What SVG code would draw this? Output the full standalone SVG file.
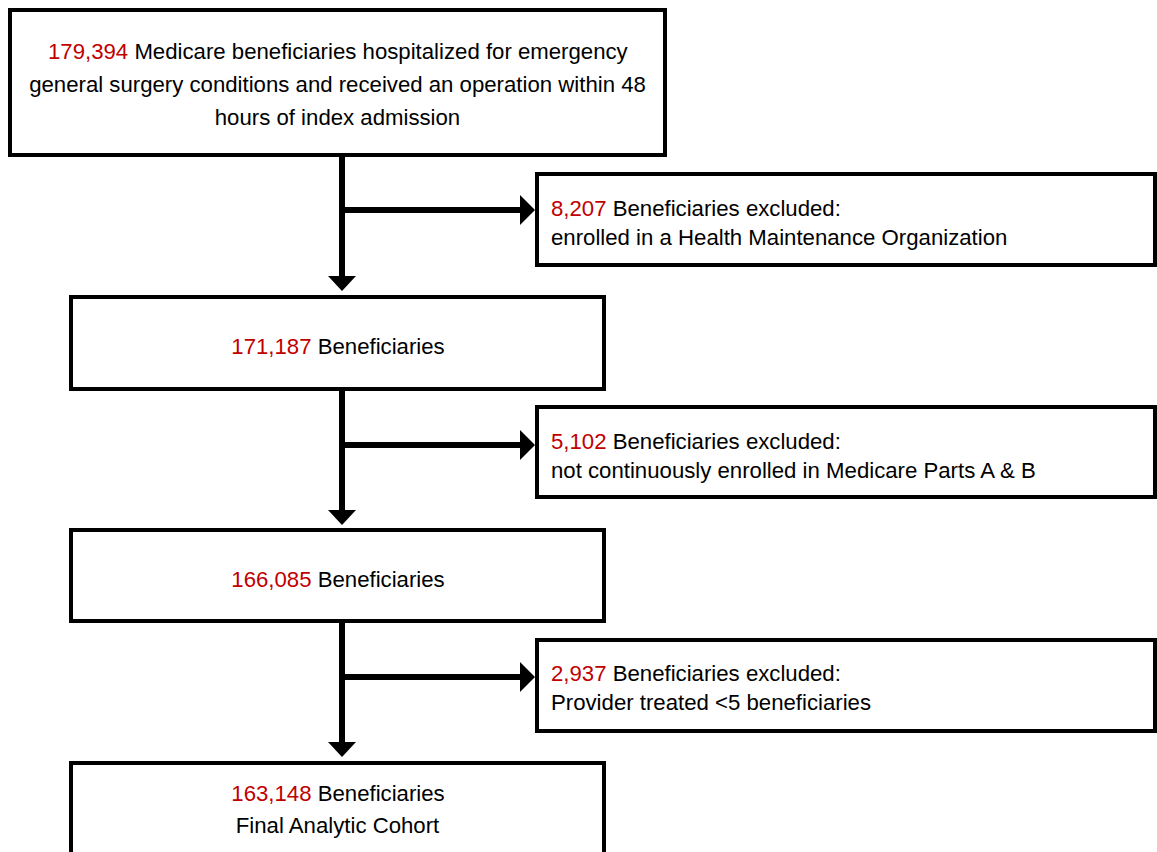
<svg xmlns="http://www.w3.org/2000/svg" width="1157" height="852" viewBox="0 0 1157 852">
<style>
.box{fill:#fff;stroke:#000;stroke-width:4}
.t{font-family:"Liberation Sans",Arial,sans-serif;font-size:22.2px;fill:#000}
.c{text-anchor:middle}
.n{fill:#c00000}
.ln{stroke:#000;stroke-width:6;fill:none}
.hd{fill:#000}
</style>
<rect width="1157" height="852" fill="#fff"/>
<g id="connectors">
<path class="ln" d="M342,155 V278"/>
<path class="hd" d="M328,276 L356,276 L342,291 z"/>
<path class="ln" d="M342,210 H522"/>
<path class="hd" d="M520,195 L535,210 L520,225 z"/>
<path class="ln" d="M342,389 V512"/>
<path class="hd" d="M328,510 L356,510 L342,525 z"/>
<path class="ln" d="M342,445 H522"/>
<path class="hd" d="M520,430 L535,445 L520,460 z"/>
<path class="ln" d="M342,621 V744"/>
<path class="hd" d="M328,742 L356,742 L342,757 z"/>
<path class="ln" d="M342,677 H522"/>
<path class="hd" d="M520,662 L535,677 L520,692 z"/>
</g>
<g id="n1">
<rect class="box" x="10" y="10" width="655" height="145"/>
<text class="t n" x="48" y="59">179,394</text>
<text class="t" x="134.4" y="59">Medicare beneficiaries hospitalized for emergency</text>
<text class="t c" x="337.5" y="92">general surgery conditions and received an operation within 48</text>
<text class="t c" x="337.5" y="125">hours of index admission</text>
</g>
<g id="x1">
<rect class="box" x="537" y="174" width="618" height="91"/>
<text class="t n" x="551" y="216">8,207</text>
<text class="t" x="612.7" y="216">Beneficiaries excluded:</text>
<text class="t" x="551" y="245">enrolled in a Health Maintenance Organization</text>
</g>
<g id="n2">
<rect class="box" x="71" y="297" width="533" height="92"/>
<text class="t n" x="231.3" y="354">171,187</text>
<text class="t" x="317.7" y="354">Beneficiaries</text>
</g>
<g id="x2">
<rect class="box" x="537" y="407" width="618" height="90"/>
<text class="t n" x="551" y="449">5,102</text>
<text class="t" x="612.7" y="449">Beneficiaries excluded:</text>
<text class="t" x="551" y="478">not continuously enrolled in Medicare Parts A &amp; B</text>
</g>
<g id="n3">
<rect class="box" x="71" y="530" width="533" height="91"/>
<text class="t n" x="231.3" y="587">166,085</text>
<text class="t" x="317.7" y="587">Beneficiaries</text>
</g>
<g id="x3">
<rect class="box" x="537" y="640" width="618" height="91"/>
<text class="t n" x="551" y="681">2,937</text>
<text class="t" x="612.7" y="681">Beneficiaries excluded:</text>
<text class="t" x="551" y="710">Provider treated &lt;5 beneficiaries</text>
</g>
<g id="n4">
<rect class="box" x="71" y="763" width="533" height="120"/>
<text class="t n" x="231.3" y="801">163,148</text>
<text class="t" x="317.7" y="801">Beneficiaries</text>
<text class="t c" x="337.5" y="833">Final Analytic Cohort</text>
</g>
</svg>
